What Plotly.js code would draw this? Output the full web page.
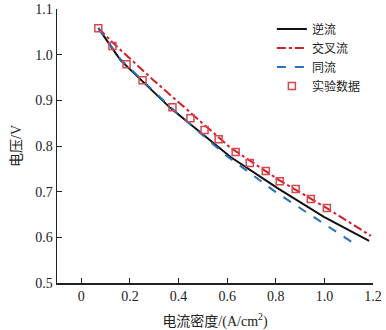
<!DOCTYPE html>
<html>
<head>
<meta charset="utf-8">
<script src="https://cdn.plot.ly/plotly-3.0.1.min.js"></script>
<style>html,body{margin:0;padding:0;background:#fff;}#chart{width:386px;height:330px;}</style>
</head>
<body>
<div id="chart"></div>
<script>
// Counter-flow (逆流)
const counterX = [0.070, 0.161, 0.367, 0.614, 0.812, 0.998, 1.184];
const counterY = [1.058, 0.988, 0.883, 0.776, 0.706, 0.645, 0.592];
// Cross-flow (交叉流)
const crossX = [0.070, 0.140, 0.297, 0.437, 0.614, 0.812, 1.010, 1.192];
const crossY = [1.058, 1.021, 0.944, 0.879, 0.796, 0.726, 0.664, 0.603];
// Co-flow (同流)
const coX = [0.070, 0.161, 0.367, 0.594, 0.800, 1.118];
const coY = [1.058, 0.990, 0.885, 0.780, 0.699, 0.588];
// Experimental data (实验数据)
const expX = [0.070, 0.128, 0.186, 0.252, 0.375, 0.449, 0.507, 0.565, 0.635, 0.693, 0.759, 0.816, 0.882, 0.944, 1.010];
const expY = [1.058, 1.019, 0.979, 0.944, 0.885, 0.861, 0.835, 0.815, 0.787, 0.763, 0.745, 0.723, 0.706, 0.684, 0.664];

const xTickVals = [0, 0.2, 0.4, 0.6, 0.8, 1.0, 1.2];
const xTickText = ['0', '0.2', '0.4', '0.6', '0.8', '1.0', '1.2'];
const yTickVals = [0.5, 0.6, 0.7, 0.8, 0.9, 1.0, 1.1];
const yTickText = ['0.5', '0.6', '0.7', '0.8', '0.9', '1.0', '1.1'];

const FONT = '"Liberation Serif", "Times New Roman", "Noto Sans CJK SC", serif';

const traces = [
  {x: counterX, y: counterY, name: '逆流', mode: 'lines', line: {color: '#111111', width: 2}},
  {x: crossX, y: crossY, name: '交叉流', mode: 'lines', line: {color: '#cf2026', width: 2, dash: 'dashdot'}},
  {x: coX, y: coY, name: '同流', mode: 'lines', line: {color: '#2a6ebd', width: 2, dash: 'dash'}},
  {x: expX, y: expY, name: '实验数据', mode: 'markers',
   marker: {symbol: 'square-open', size: 7, color: '#d8474c', line: {width: 1.5, color: '#d8474c'}}}
];

const layout = {
  width: 386, height: 330,
  margin: {l: 57, r: 13, t: 9, b: 47},
  paper_bgcolor: '#ffffff', plot_bgcolor: '#ffffff',
  font: {family: FONT, size: 14, color: '#222'},
  showlegend: true,
  legend: {x: 0.68, y: 0.98, xanchor: 'left', yanchor: 'top', bgcolor: 'rgba(0,0,0,0)',
           font: {family: FONT, size: 12, color: '#222'}, tracegroupgap: 0, itemwidth: 30},
  xaxis: {
    range: [-0.1, 1.2], tickvals: xTickVals, ticktext: xTickText,
    showgrid: false, zeroline: false, showline: true, linecolor: '#222', linewidth: 1.5,
    ticks: 'inside', ticklen: 5, tickcolor: '#222', tickwidth: 1,
    tickfont: {family: FONT, size: 14, color: '#222'},
    title: {text: '电流密度/(A/cm<sup>2</sup>)', font: {family: FONT, size: 14, color: '#222'}, standoff: 13}
  },
  yaxis: {
    range: [0.5, 1.1], tickvals: yTickVals, ticktext: yTickText,
    showgrid: false, zeroline: false, showline: true, linecolor: '#222', linewidth: 1.5,
    ticks: 'inside', ticklen: 5, tickcolor: '#222', tickwidth: 1,
    tickfont: {family: FONT, size: 14, color: '#222'},
    title: {text: '电压/V', font: {family: FONT, size: 14, color: '#222'}, standoff: 10}
  }
};

Plotly.newPlot('chart', traces, layout, {displayModeBar: false, staticPlot: true});
</script>
</body>
</html>
